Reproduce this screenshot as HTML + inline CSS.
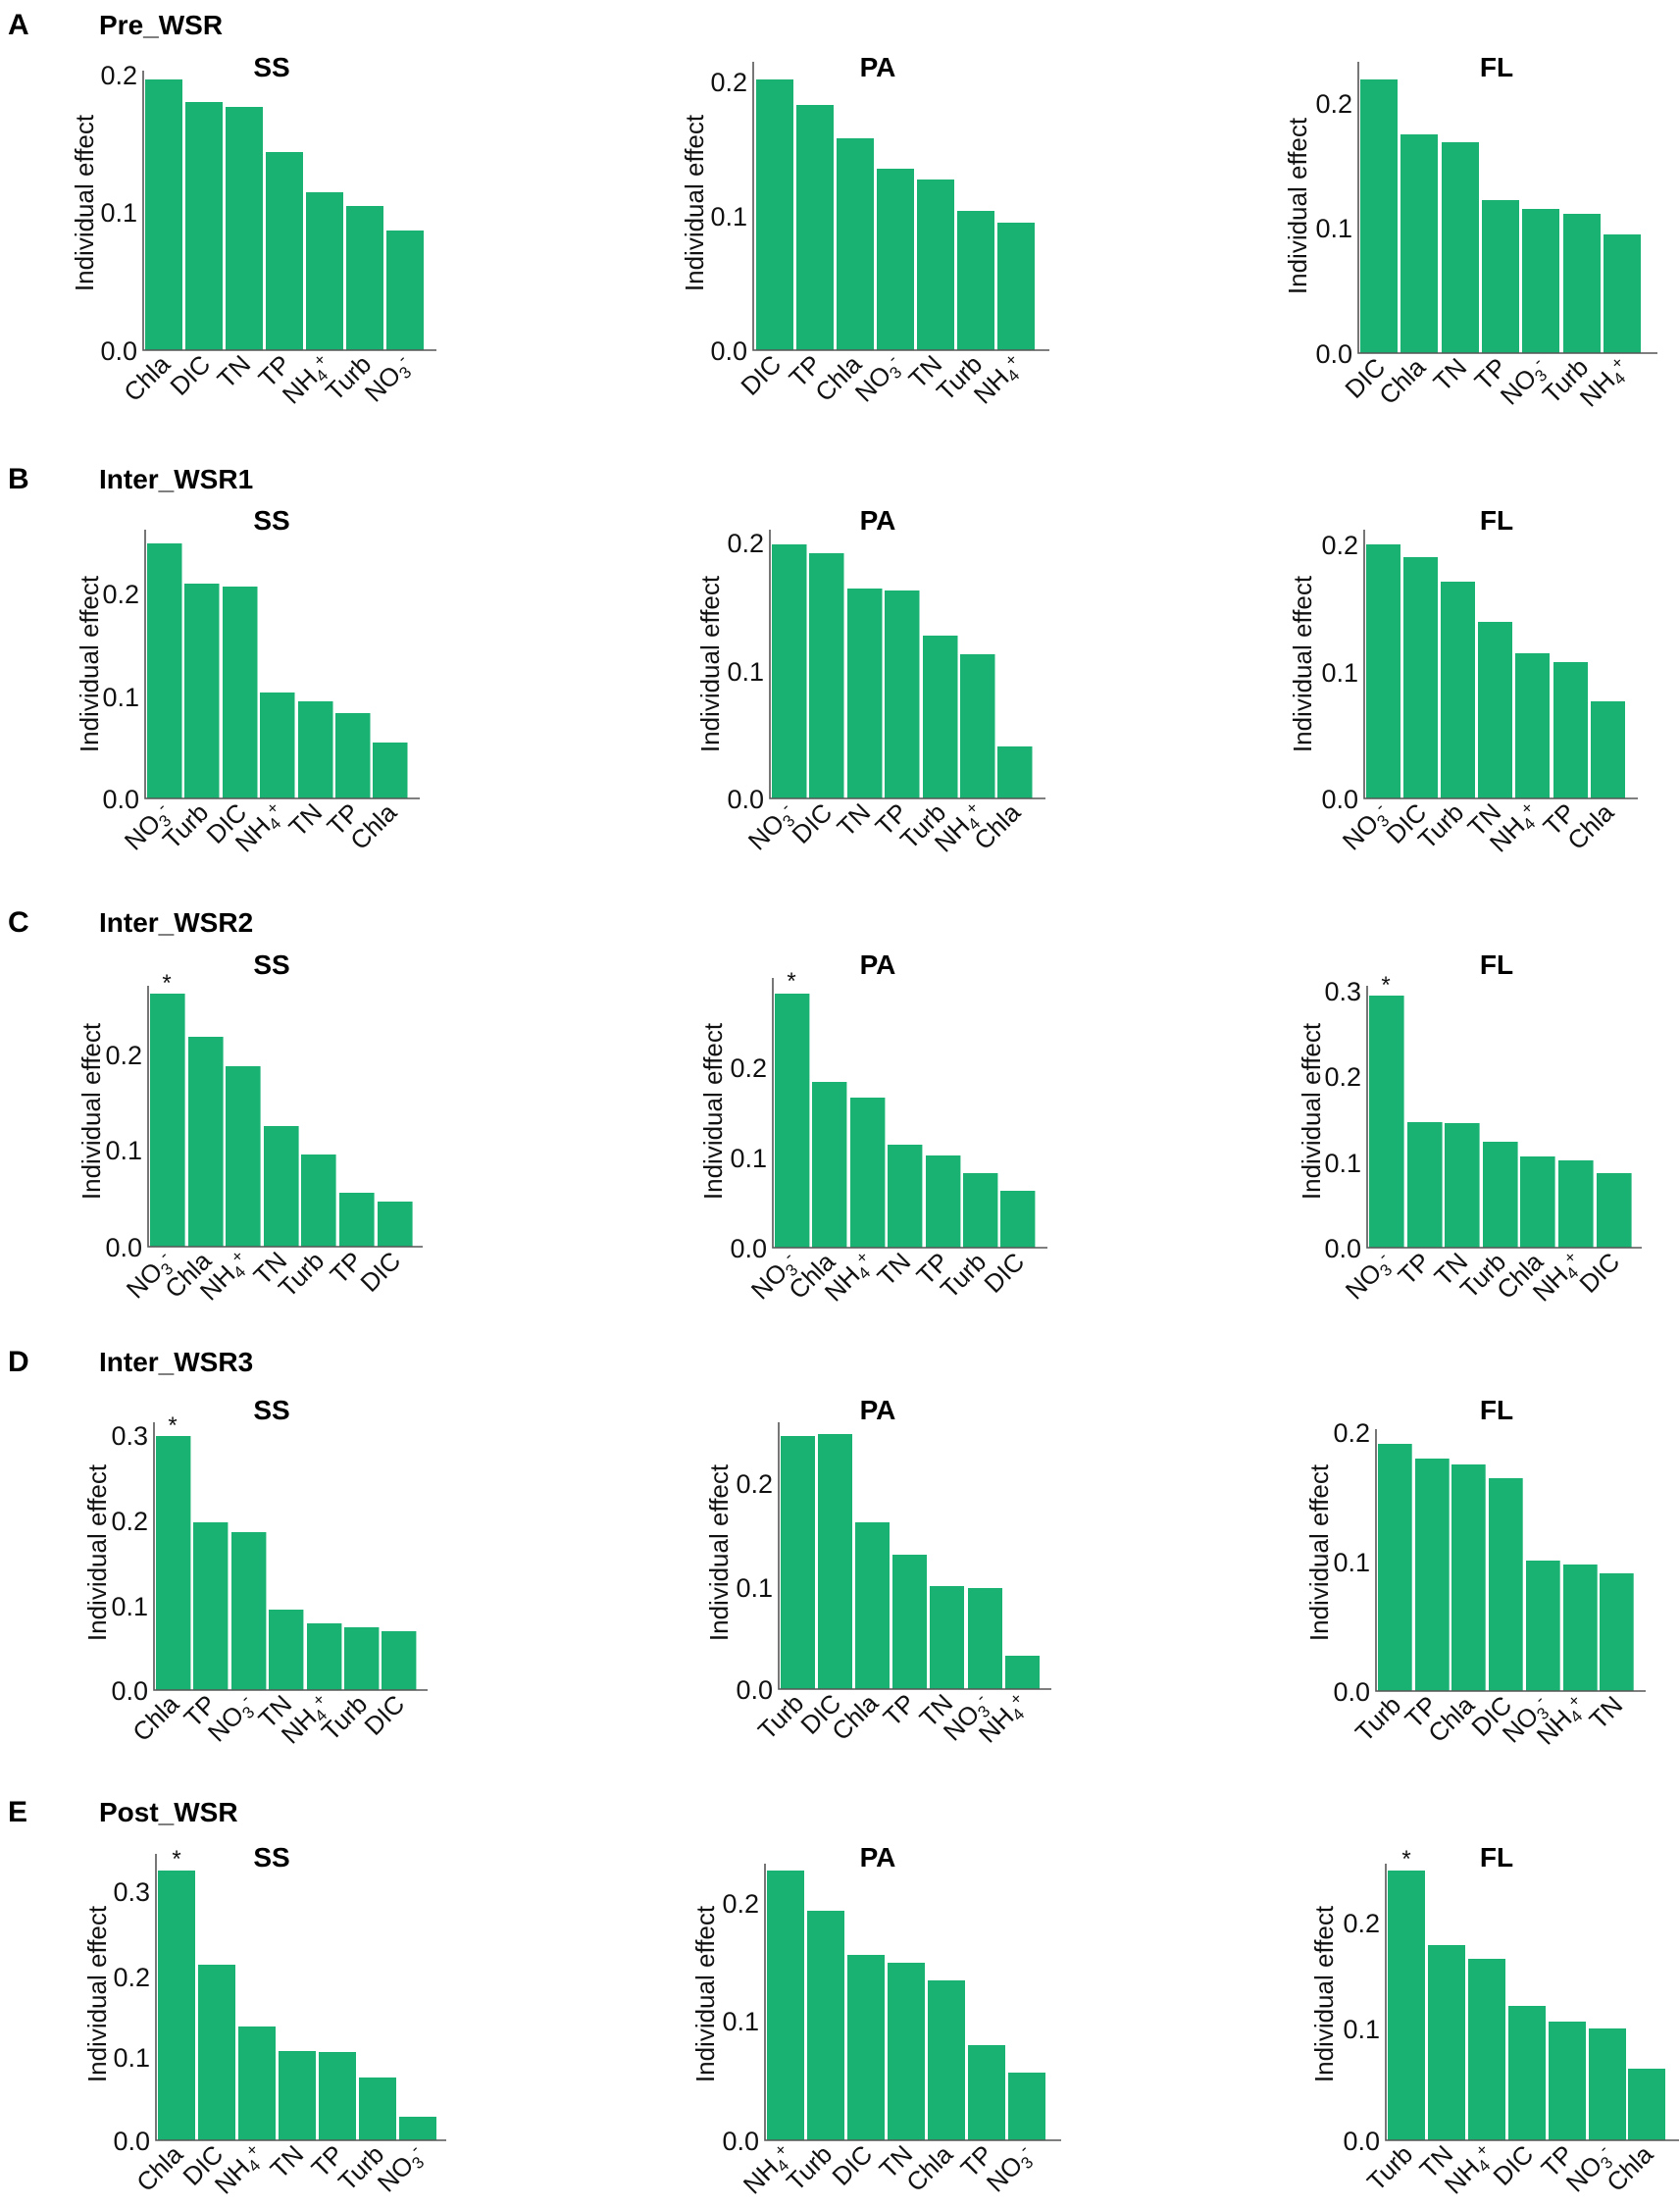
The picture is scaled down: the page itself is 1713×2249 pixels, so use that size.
<!DOCTYPE html>
<html><head><meta charset="utf-8"><style>
html,body{margin:0;padding:0;background:#fff;}
svg{display:block;font-family:"Liberation Sans",Arial,sans-serif;}
.b{fill:#19b273;}
.ax{stroke:#555;stroke-width:1.6;fill:none;}
.tk{font-size:27px;text-anchor:end;fill:#111;}
.cl{font-size:26px;text-anchor:end;fill:#111;}
.yl{font-size:26px;text-anchor:middle;fill:#111;}
.tt{font-size:28px;font-weight:bold;text-anchor:middle;fill:#000;}
.rl{font-size:30px;font-weight:bold;fill:#000;}
.rn{font-size:28px;font-weight:bold;fill:#000;}
.st{font-size:24px;text-anchor:middle;fill:#111;}
.s{font-size:17px;}
</style></head><body>
<svg width="1713" height="2249" viewBox="0 0 1713 2249" xmlns="http://www.w3.org/2000/svg">

<!-- Row labels -->
<text class="rl" x="8" y="35">A</text><text class="rn" x="101" y="35">Pre_WSR</text>
<text class="rl" x="8" y="498">B</text><text class="rn" x="101" y="498">Inter_WSR1</text>
<text class="rl" x="8" y="950">C</text><text class="rn" x="101" y="950">Inter_WSR2</text>
<text class="rl" x="8" y="1398">D</text><text class="rn" x="101" y="1398">Inter_WSR3</text>
<text class="rl" x="8" y="1857">E</text><text class="rn" x="101" y="1857">Post_WSR</text>

<!-- Titles -->
<g class="tt">
<text x="277" y="78">SS</text><text x="895" y="78">PA</text><text x="1526" y="78">FL</text>
<text x="277" y="540">SS</text><text x="895" y="540">PA</text><text x="1526" y="540">FL</text>
<text x="277" y="993">SS</text><text x="895" y="993">PA</text><text x="1526" y="993">FL</text>
<text x="277" y="1447">SS</text><text x="895" y="1447">PA</text><text x="1526" y="1447">FL</text>
<text x="277" y="1903">SS</text><text x="895" y="1903">PA</text><text x="1526" y="1903">FL</text>
</g>

<!-- Y labels -->
<g class="yl">
<text transform="translate(95,207) rotate(-90)">Individual effect</text>
<text transform="translate(717,207) rotate(-90)">Individual effect</text>
<text transform="translate(1332,210) rotate(-90)">Individual effect</text>
<text transform="translate(100,677) rotate(-90)">Individual effect</text>
<text transform="translate(733,677) rotate(-90)">Individual effect</text>
<text transform="translate(1337,677) rotate(-90)">Individual effect</text>
<text transform="translate(102,1133) rotate(-90)">Individual effect</text>
<text transform="translate(736,1133) rotate(-90)">Individual effect</text>
<text transform="translate(1346,1133) rotate(-90)">Individual effect</text>
<text transform="translate(108,1583) rotate(-90)">Individual effect</text>
<text transform="translate(742,1583) rotate(-90)">Individual effect</text>
<text transform="translate(1354,1583) rotate(-90)">Individual effect</text>
<text transform="translate(108,2033) rotate(-90)">Individual effect</text>
<text transform="translate(728,2033) rotate(-90)">Individual effect</text>
<text transform="translate(1359,2033) rotate(-90)">Individual effect</text>
</g>

<!-- ===== Row A ===== -->
<g class="b">
<rect x="148" y="81" width="38" height="276"/><rect x="189" y="104" width="38" height="253"/><rect x="230" y="109" width="38" height="248"/><rect x="271" y="155" width="38" height="202"/><rect x="312" y="196" width="38" height="161"/><rect x="353" y="210" width="38" height="147"/><rect x="394" y="235" width="38" height="122"/>
<rect x="771" y="81" width="38" height="276"/><rect x="812" y="107" width="38" height="250"/><rect x="853" y="141" width="38" height="216"/><rect x="894" y="172" width="38" height="185"/><rect x="935" y="183" width="38" height="174"/><rect x="976" y="215" width="38" height="142"/><rect x="1017" y="227" width="38" height="130"/>
<rect x="1387" y="81" width="38" height="279"/><rect x="1428" y="137" width="38" height="223"/><rect x="1470" y="145" width="38" height="215"/><rect x="1511" y="204" width="38" height="156"/><rect x="1552" y="213" width="38" height="147"/><rect x="1594" y="218" width="38" height="142"/><rect x="1635" y="239" width="38" height="121"/>
</g>
<path class="ax" d="M146 72V357H445M768 63V357H1070M1385 63V360H1690"/>
<g class="tk">
<text x="140" y="367">0.0</text><text x="140" y="226">0.1</text><text x="140" y="86">0.2</text>
<text x="762" y="367">0.0</text><text x="762" y="230">0.1</text><text x="762" y="93">0.2</text>
<text x="1379" y="370">0.0</text><text x="1379" y="242">0.1</text><text x="1379" y="115">0.2</text>
</g>
<g class="cl">
<text transform="translate(175,373) rotate(-45)">Chla</text>
<text transform="translate(216,373) rotate(-45)">DIC</text>
<text transform="translate(257,373) rotate(-45)">TN</text>
<text transform="translate(298,373) rotate(-45)">TP</text>
<text transform="translate(339,373) rotate(-45)">NH<tspan class="s" dy="5">4</tspan><tspan class="s" dy="-13">+</tspan></text>
<text transform="translate(380,373) rotate(-45)">Turb</text>
<text transform="translate(421,373) rotate(-45)">NO<tspan class="s" dy="5">3</tspan><tspan class="s" dy="-13">-</tspan></text>
<text transform="translate(798,373) rotate(-45)">DIC</text>
<text transform="translate(839,373) rotate(-45)">TP</text>
<text transform="translate(880,373) rotate(-45)">Chla</text>
<text transform="translate(921,373) rotate(-45)">NO<tspan class="s" dy="5">3</tspan><tspan class="s" dy="-13">-</tspan></text>
<text transform="translate(962,373) rotate(-45)">TN</text>
<text transform="translate(1003,373) rotate(-45)">Turb</text>
<text transform="translate(1044,373) rotate(-45)">NH<tspan class="s" dy="5">4</tspan><tspan class="s" dy="-13">+</tspan></text>
<text transform="translate(1414,376) rotate(-45)">DIC</text>
<text transform="translate(1455,376) rotate(-45)">Chla</text>
<text transform="translate(1497,376) rotate(-45)">TN</text>
<text transform="translate(1538,376) rotate(-45)">TP</text>
<text transform="translate(1579,376) rotate(-45)">NO<tspan class="s" dy="5">3</tspan><tspan class="s" dy="-13">-</tspan></text>
<text transform="translate(1621,376) rotate(-45)">Turb</text>
<text transform="translate(1662,376) rotate(-45)">NH<tspan class="s" dy="5">4</tspan><tspan class="s" dy="-13">+</tspan></text>
</g>

<!-- ===== Row B ===== -->
<g class="b">
<rect x="150" y="554" width="35.5" height="260"/><rect x="188" y="595" width="35.5" height="219"/><rect x="227" y="598" width="35.5" height="216"/><rect x="265" y="706" width="35.5" height="108"/><rect x="304" y="715" width="35.5" height="99"/><rect x="342" y="727" width="35.5" height="87"/><rect x="380" y="757" width="35.5" height="57"/>
<rect x="787" y="555" width="35.5" height="259"/><rect x="825" y="564" width="35.5" height="250"/><rect x="864" y="600" width="35.5" height="214"/><rect x="902" y="602" width="35.5" height="212"/><rect x="941" y="648" width="35.5" height="166"/><rect x="979" y="667" width="35.5" height="147"/><rect x="1017" y="761" width="35.5" height="53"/>
<rect x="1393" y="555" width="35" height="259"/><rect x="1431" y="568" width="35" height="246"/><rect x="1469" y="593" width="35" height="221"/><rect x="1507" y="634" width="35" height="180"/><rect x="1545" y="666" width="35" height="148"/><rect x="1584" y="675" width="35" height="139"/><rect x="1622" y="715" width="35" height="99"/>
</g>
<path class="ax" d="M148 540V814H428M785 540V814H1066M1391 540V814H1670"/>
<g class="tk">
<text x="142" y="824">0.0</text><text x="142" y="720">0.1</text><text x="142" y="615">0.2</text>
<text x="779" y="824">0.0</text><text x="779" y="694">0.1</text><text x="779" y="563">0.2</text>
<text x="1385" y="824">0.0</text><text x="1385" y="695">0.1</text><text x="1385" y="565">0.2</text>
</g>
<g class="cl">
<text transform="translate(176,830) rotate(-45)">NO<tspan class="s" dy="5">3</tspan><tspan class="s" dy="-13">-</tspan></text>
<text transform="translate(214,830) rotate(-45)">Turb</text>
<text transform="translate(253,830) rotate(-45)">DIC</text>
<text transform="translate(291,830) rotate(-45)">NH<tspan class="s" dy="5">4</tspan><tspan class="s" dy="-13">+</tspan></text>
<text transform="translate(330,830) rotate(-45)">TN</text>
<text transform="translate(368,830) rotate(-45)">TP</text>
<text transform="translate(406,830) rotate(-45)">Chla</text>
<text transform="translate(812,830) rotate(-45)">NO<tspan class="s" dy="5">3</tspan><tspan class="s" dy="-13">-</tspan></text>
<text transform="translate(850,830) rotate(-45)">DIC</text>
<text transform="translate(889,830) rotate(-45)">TN</text>
<text transform="translate(927,830) rotate(-45)">TP</text>
<text transform="translate(966,830) rotate(-45)">Turb</text>
<text transform="translate(1004,830) rotate(-45)">NH<tspan class="s" dy="5">4</tspan><tspan class="s" dy="-13">+</tspan></text>
<text transform="translate(1042,830) rotate(-45)">Chla</text>
<text transform="translate(1418,830) rotate(-45)">NO<tspan class="s" dy="5">3</tspan><tspan class="s" dy="-13">-</tspan></text>
<text transform="translate(1456,830) rotate(-45)">DIC</text>
<text transform="translate(1494,830) rotate(-45)">Turb</text>
<text transform="translate(1532,830) rotate(-45)">TN</text>
<text transform="translate(1570,830) rotate(-45)">NH<tspan class="s" dy="5">4</tspan><tspan class="s" dy="-13">+</tspan></text>
<text transform="translate(1608,830) rotate(-45)">TP</text>
<text transform="translate(1647,830) rotate(-45)">Chla</text>
</g>

<!-- ===== Row C ===== -->
<g class="b">
<rect x="153" y="1013" width="35.6" height="258"/><rect x="192" y="1057" width="35.6" height="214"/><rect x="230" y="1087" width="35.6" height="184"/><rect x="269" y="1148" width="35.6" height="123"/><rect x="307" y="1177" width="35.6" height="94"/><rect x="346" y="1216" width="35.6" height="55"/><rect x="385" y="1225" width="35.6" height="46"/>
<rect x="790" y="1013" width="35.4" height="259"/><rect x="828" y="1103" width="35.4" height="169"/><rect x="867" y="1119" width="35.4" height="153"/><rect x="905" y="1167" width="35.4" height="105"/><rect x="944" y="1178" width="35.4" height="94"/><rect x="982" y="1196" width="35.4" height="76"/><rect x="1020" y="1214" width="35.4" height="58"/>
<rect x="1396" y="1015" width="35.6" height="257"/><rect x="1435" y="1144" width="35.6" height="128"/><rect x="1473" y="1145" width="35.6" height="127"/><rect x="1512" y="1164" width="35.6" height="108"/><rect x="1550" y="1179" width="35.6" height="93"/><rect x="1589" y="1183" width="35.6" height="89"/><rect x="1628" y="1196" width="35.6" height="76"/>
</g>
<path class="ax" d="M151 1005V1271H431M788 997V1272H1068M1394 1005V1272H1674"/>
<g class="st">
<text x="170" y="1010">*</text><text x="807" y="1008">*</text><text x="1413" y="1012">*</text>
</g>
<g class="tk">
<text x="145" y="1281">0.0</text><text x="145" y="1182">0.1</text><text x="145" y="1085">0.2</text>
<text x="782" y="1282">0.0</text><text x="782" y="1190">0.1</text><text x="782" y="1098">0.2</text>
<text x="1388" y="1282">0.0</text><text x="1388" y="1195">0.1</text><text x="1388" y="1107">0.2</text><text x="1388" y="1020">0.3</text>
</g>
<g class="cl">
<text transform="translate(178,1287) rotate(-45)">NO<tspan class="s" dy="5">3</tspan><tspan class="s" dy="-13">-</tspan></text>
<text transform="translate(217,1287) rotate(-45)">Chla</text>
<text transform="translate(255,1287) rotate(-45)">NH<tspan class="s" dy="5">4</tspan><tspan class="s" dy="-13">+</tspan></text>
<text transform="translate(294,1287) rotate(-45)">TN</text>
<text transform="translate(332,1287) rotate(-45)">Turb</text>
<text transform="translate(371,1287) rotate(-45)">TP</text>
<text transform="translate(410,1287) rotate(-45)">DIC</text>
<text transform="translate(815,1288) rotate(-45)">NO<tspan class="s" dy="5">3</tspan><tspan class="s" dy="-13">-</tspan></text>
<text transform="translate(853,1288) rotate(-45)">Chla</text>
<text transform="translate(892,1288) rotate(-45)">NH<tspan class="s" dy="5">4</tspan><tspan class="s" dy="-13">+</tspan></text>
<text transform="translate(930,1288) rotate(-45)">TN</text>
<text transform="translate(969,1288) rotate(-45)">TP</text>
<text transform="translate(1007,1288) rotate(-45)">Turb</text>
<text transform="translate(1046,1288) rotate(-45)">DIC</text>
<text transform="translate(1421,1288) rotate(-45)">NO<tspan class="s" dy="5">3</tspan><tspan class="s" dy="-13">-</tspan></text>
<text transform="translate(1460,1288) rotate(-45)">TP</text>
<text transform="translate(1498,1288) rotate(-45)">TN</text>
<text transform="translate(1537,1288) rotate(-45)">Turb</text>
<text transform="translate(1575,1288) rotate(-45)">Chla</text>
<text transform="translate(1614,1288) rotate(-45)">NH<tspan class="s" dy="5">4</tspan><tspan class="s" dy="-13">+</tspan></text>
<text transform="translate(1653,1288) rotate(-45)">DIC</text>
</g>

<!-- ===== Row D ===== -->
<g class="b">
<rect x="159" y="1464" width="35.4" height="259"/><rect x="197" y="1552" width="35.4" height="171"/><rect x="236" y="1562" width="35.4" height="161"/><rect x="274" y="1641" width="35.4" height="82"/><rect x="313" y="1655" width="35.4" height="68"/><rect x="351" y="1659" width="35.4" height="64"/><rect x="389" y="1663" width="35.4" height="60"/>
<rect x="796" y="1464" width="35" height="258"/><rect x="834" y="1462" width="35" height="260"/><rect x="872" y="1552" width="35" height="170"/><rect x="910" y="1585" width="35" height="137"/><rect x="948" y="1617" width="35" height="105"/><rect x="987" y="1619" width="35" height="103"/><rect x="1025" y="1688" width="35" height="34"/>
<rect x="1405" y="1472" width="34.7" height="252"/><rect x="1443" y="1487" width="34.7" height="237"/><rect x="1480" y="1493" width="34.7" height="231"/><rect x="1518" y="1507" width="34.7" height="217"/><rect x="1556" y="1591" width="34.7" height="133"/><rect x="1594" y="1595" width="34.7" height="129"/><rect x="1631" y="1604" width="34.7" height="120"/>
</g>
<path class="ax" d="M157 1450V1723H436M794 1450V1722H1072M1403 1457V1724H1678"/>
<g class="st"><text x="176" y="1461">*</text></g>
<g class="tk">
<text x="151" y="1733">0.0</text><text x="151" y="1647">0.1</text><text x="151" y="1560">0.2</text><text x="151" y="1473">0.3</text>
<text x="788" y="1732">0.0</text><text x="788" y="1628">0.1</text><text x="788" y="1522">0.2</text>
<text x="1397" y="1734">0.0</text><text x="1397" y="1602">0.1</text><text x="1397" y="1470">0.2</text>
</g>
<g class="cl">
<text transform="translate(184,1739) rotate(-45)">Chla</text>
<text transform="translate(222,1739) rotate(-45)">TP</text>
<text transform="translate(261,1739) rotate(-45)">NO<tspan class="s" dy="5">3</tspan><tspan class="s" dy="-13">-</tspan></text>
<text transform="translate(299,1739) rotate(-45)">TN</text>
<text transform="translate(338,1739) rotate(-45)">NH<tspan class="s" dy="5">4</tspan><tspan class="s" dy="-13">+</tspan></text>
<text transform="translate(376,1739) rotate(-45)">Turb</text>
<text transform="translate(414,1739) rotate(-45)">DIC</text>
<text transform="translate(821,1738) rotate(-45)">Turb</text>
<text transform="translate(859,1738) rotate(-45)">DIC</text>
<text transform="translate(897,1738) rotate(-45)">Chla</text>
<text transform="translate(935,1738) rotate(-45)">TP</text>
<text transform="translate(973,1738) rotate(-45)">TN</text>
<text transform="translate(1011,1738) rotate(-45)">NO<tspan class="s" dy="5">3</tspan><tspan class="s" dy="-13">-</tspan></text>
<text transform="translate(1049,1738) rotate(-45)">NH<tspan class="s" dy="5">4</tspan><tspan class="s" dy="-13">+</tspan></text>
<text transform="translate(1430,1740) rotate(-45)">Turb</text>
<text transform="translate(1467,1740) rotate(-45)">TP</text>
<text transform="translate(1505,1740) rotate(-45)">Chla</text>
<text transform="translate(1543,1740) rotate(-45)">DIC</text>
<text transform="translate(1581,1740) rotate(-45)">NO<tspan class="s" dy="5">3</tspan><tspan class="s" dy="-13">-</tspan></text>
<text transform="translate(1618,1740) rotate(-45)">NH<tspan class="s" dy="5">4</tspan><tspan class="s" dy="-13">+</tspan></text>
<text transform="translate(1656,1740) rotate(-45)">TN</text>
</g>

<!-- ===== Row E ===== -->
<g class="b">
<rect x="161" y="1907" width="38" height="275"/><rect x="202" y="2003" width="38" height="179"/><rect x="243" y="2066" width="38" height="116"/><rect x="284" y="2091" width="38" height="91"/><rect x="325" y="2092" width="38" height="90"/><rect x="366" y="2118" width="38" height="64"/><rect x="407" y="2158" width="38" height="24"/>
<rect x="782" y="1907" width="38" height="275"/><rect x="823" y="1948" width="38" height="234"/><rect x="864" y="1993" width="38" height="189"/><rect x="905" y="2001" width="38" height="181"/><rect x="946" y="2019" width="38" height="163"/><rect x="987" y="2085" width="38" height="97"/><rect x="1028" y="2113" width="38" height="69"/>
<rect x="1415" y="1907" width="38" height="275"/><rect x="1456" y="1983" width="38" height="199"/><rect x="1497" y="1997" width="38" height="185"/><rect x="1538" y="2045" width="38" height="137"/><rect x="1579" y="2061" width="38" height="121"/><rect x="1620" y="2068" width="38" height="114"/><rect x="1660" y="2109" width="38" height="73"/>
</g>
<path class="ax" d="M159 1890V2182H455M780 1900V2182H1082M1413 1900V2182H1712"/>
<g class="st"><text x="180" y="1903">*</text><text x="1434" y="1903">*</text></g>
<g class="tk">
<text x="153" y="2192">0.0</text><text x="153" y="2107">0.1</text><text x="153" y="2025">0.2</text><text x="153" y="1938">0.3</text>
<text x="774" y="2192">0.0</text><text x="774" y="2070">0.1</text><text x="774" y="1950">0.2</text>
<text x="1407" y="2192">0.0</text><text x="1407" y="2078">0.1</text><text x="1407" y="1970">0.2</text>
</g>
<g class="cl">
<text transform="translate(188,2198) rotate(-45)">Chla</text>
<text transform="translate(229,2198) rotate(-45)">DIC</text>
<text transform="translate(270,2198) rotate(-45)">NH<tspan class="s" dy="5">4</tspan><tspan class="s" dy="-13">+</tspan></text>
<text transform="translate(311,2198) rotate(-45)">TN</text>
<text transform="translate(352,2198) rotate(-45)">TP</text>
<text transform="translate(393,2198) rotate(-45)">Turb</text>
<text transform="translate(434,2198) rotate(-45)">NO<tspan class="s" dy="5">3</tspan><tspan class="s" dy="-13">-</tspan></text>
<text transform="translate(809,2198) rotate(-45)">NH<tspan class="s" dy="5">4</tspan><tspan class="s" dy="-13">+</tspan></text>
<text transform="translate(850,2198) rotate(-45)">Turb</text>
<text transform="translate(891,2198) rotate(-45)">DIC</text>
<text transform="translate(932,2198) rotate(-45)">TN</text>
<text transform="translate(973,2198) rotate(-45)">Chla</text>
<text transform="translate(1014,2198) rotate(-45)">TP</text>
<text transform="translate(1055,2198) rotate(-45)">NO<tspan class="s" dy="5">3</tspan><tspan class="s" dy="-13">-</tspan></text>
<text transform="translate(1442,2198) rotate(-45)">Turb</text>
<text transform="translate(1483,2198) rotate(-45)">TN</text>
<text transform="translate(1524,2198) rotate(-45)">NH<tspan class="s" dy="5">4</tspan><tspan class="s" dy="-13">+</tspan></text>
<text transform="translate(1565,2198) rotate(-45)">DIC</text>
<text transform="translate(1606,2198) rotate(-45)">TP</text>
<text transform="translate(1646,2198) rotate(-45)">NO<tspan class="s" dy="5">3</tspan><tspan class="s" dy="-13">-</tspan></text>
<text transform="translate(1687,2198) rotate(-45)">Chla</text>
</g>
</svg>
</body></html>
